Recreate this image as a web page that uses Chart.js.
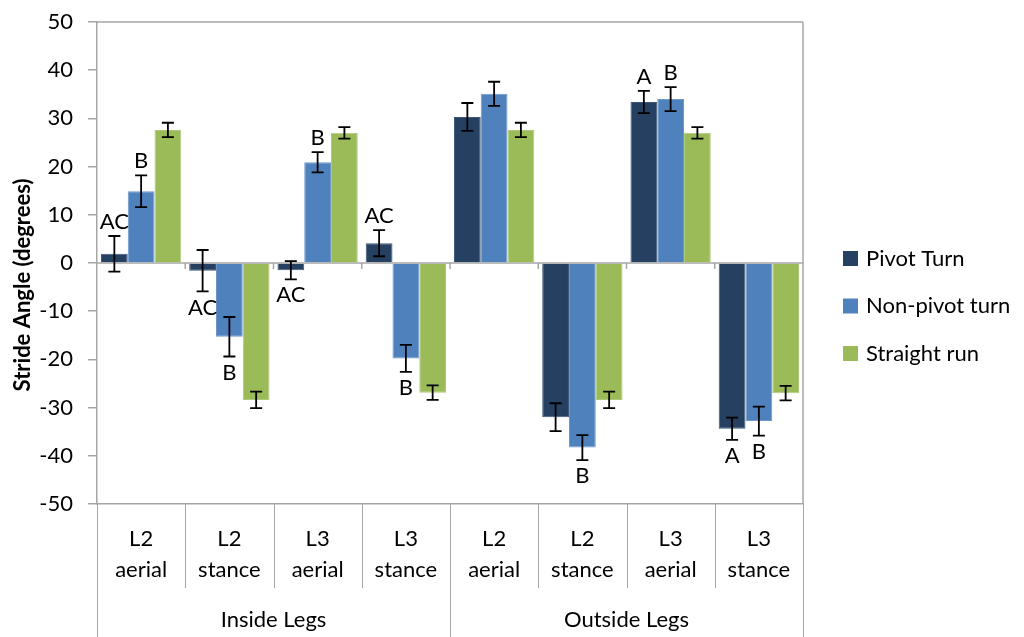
<!DOCTYPE html>
<html>
<head>
<meta charset="utf-8">
<script src="https://cdn.jsdelivr.net/npm/chart.js@4.4.1/dist/chart.umd.min.js"></script>
<style>
html, body { margin: 0; padding: 0; background: #fff; }
#wrap { width: 1024px; height: 637px; position: relative; }
</style>
</head>
<body>
<div id="wrap"><canvas id="graficoStride"></canvas></div>
<script>
// dados
const categorias = [['L2', 'aerial'], ['L2', 'stance'], ['L3', 'aerial'], ['L3', 'stance'],
                    ['L2', 'aerial'], ['L2', 'stance'], ['L3', 'aerial'], ['L3', 'stance']];
const grupos = ['Inside Legs', 'Outside Legs'];
const series = ['Pivot Turn', 'Non-pivot turn', 'Straight run'];

const pivot = [1.9, -1.6, -1.5, 4.1, 30.3, -32.0, 33.4, -34.4];
const pivotErr = [3.7, 4.3, 1.9, 2.7, 2.9, 2.9, 2.3, 2.3];
const pivotLetras = ['AC', 'AC', 'AC', 'AC', '', '', 'A', 'A'];

const naoPivot = [14.9, -15.3, 20.9, -19.8, 35.1, -38.3, 34.0, -32.8];
const naoPivotErr = [3.3, 4.1, 2.1, 2.8, 2.5, 2.6, 2.5, 3.0];
const naoPivotLetras = ['B', 'B', 'B', 'B', '', 'B', 'B', 'B'];

const reta = [27.6, -28.4, 27.0, -26.9, 27.6, -28.4, 27.0, -27.0];
const retaErr = [1.5, 1.7, 1.2, 1.5, 1.5, 1.7, 1.2, 1.5];
const retaLetras = ['', '', '', '', '', '', '', ''];

const yMin = -50, yMax = 50, yStep = 10;
const tituloY = 'Stride Angle (degrees)';

const FONTE = 'Lato, "Noto Sans", sans-serif';
const CINZA = '#a6a6a6';

const erros = [pivotErr, naoPivotErr, retaErr];
const letras = [pivotLetras, naoPivotLetras, retaLetras];

// moldura, linha do zero e divisórias das categorias
const molduraPlugin = {
    id: 'moldura',
    beforeDatasetsDraw(chart) {
        const { ctx, chartArea: a, scales } = chart;
        const y0 = scales.y.getPixelForValue(0);
        const n = categorias.length;
        const w = (a.right - a.left) / n;
        ctx.save();
        ctx.strokeStyle = CINZA;
        ctx.lineWidth = 1.5;
        ctx.beginPath();
        ctx.moveTo(a.left, a.top); ctx.lineTo(a.right, a.top);
        ctx.moveTo(a.right, a.top); ctx.lineTo(a.right, a.bottom);
        ctx.moveTo(a.left, y0); ctx.lineTo(a.right, y0);
        for (let i = 1; i < n; i++) {
            const x = a.left + i * w;
            ctx.moveTo(x, y0); ctx.lineTo(x, y0 + 6);
        }
        ctx.stroke();
        ctx.restore();
    },
    afterDraw(chart) {
        const { ctx, chartArea: a } = chart;
        const n = categorias.length;
        const w = (a.right - a.left) / n;
        const H = chart.height;
        ctx.save();
        ctx.strokeStyle = CINZA;
        ctx.lineWidth = 1;
        ctx.beginPath();
        for (let i = 0; i <= n; i++) {
            const x = Math.round(a.left + i * w) + 0.5;
            const fim = (i % 4 === 0) ? H : a.bottom + 84;
            ctx.moveTo(x, a.bottom); ctx.lineTo(x, fim);
        }
        ctx.stroke();
        ctx.fillStyle = '#000';
        ctx.font = '22px ' + FONTE;
        ctx.textAlign = 'center';
        ctx.textBaseline = 'middle';
        grupos.forEach((g, k) => {
            ctx.fillText(g, a.left + (k * 4 + 2) * w, 620);
        });

        // título do eixo y
        ctx.save();
        ctx.translate(23, 285);
        ctx.rotate(-Math.PI / 2);
        ctx.font = 'bold 22px ' + FONTE;
        ctx.fillText(tituloY, 0, 0);
        ctx.restore();

        // legenda
        chart.data.datasets.forEach((ds, k) => {
            const y = 306 + (k - 1) * 47.5;
            ctx.fillStyle = ds.backgroundColor;
            ctx.fillRect(843, y - 7.5, 15, 15);
            ctx.fillStyle = '#000';
            ctx.textAlign = 'left';
            ctx.fillText(ds.label, 866, y);
        });
        ctx.restore();
    }
};

// barras de erro e letras de significância
const errosPlugin = {
    id: 'erros',
    afterDatasetsDraw(chart) {
        const { ctx, scales } = chart;
        ctx.save();
        ctx.strokeStyle = '#000';
        ctx.lineWidth = 1.8;
        ctx.fillStyle = '#000';
        ctx.font = '22px ' + FONTE;
        ctx.textAlign = 'center';
        chart.data.datasets.forEach((ds, k) => {
            const meta = chart.getDatasetMeta(k);
            meta.data.forEach((bar, i) => {
                const v = ds.data[i];
                const e = erros[k][i];
                const yt = scales.y.getPixelForValue(v + e);
                const yb = scales.y.getPixelForValue(v - e);
                const x = bar.x;
                ctx.beginPath();
                ctx.moveTo(x, yt); ctx.lineTo(x, yb);
                ctx.moveTo(x - 6, yt); ctx.lineTo(x + 6, yt);
                ctx.moveTo(x - 6, yb); ctx.lineTo(x + 6, yb);
                ctx.stroke();
                const txt = letras[k][i];
                if (txt) {
                    if (v >= 0) {
                        ctx.textBaseline = 'alphabetic';
                        ctx.fillText(txt, x, yt - 7);
                    } else {
                        ctx.textBaseline = 'top';
                        ctx.fillText(txt, x, yb + 5);
                    }
                }
            });
        });
        ctx.restore();
    }
};

const ctx = document.getElementById('graficoStride').getContext('2d');
new Chart(ctx, {
    type: 'bar',
    data: {
        labels: categorias,
        datasets: [{
            label: series[0],
            data: pivot,
            backgroundColor: '#254061',
            borderColor: '#3b5677',
            borderWidth: 1
        }, {
            label: series[1],
            data: naoPivot,
            backgroundColor: '#4f81bd',
            borderColor: '#6f97c9',
            borderWidth: 1
        }, {
            label: series[2],
            data: reta,
            backgroundColor: '#9bbb59',
            borderColor: '#afc97a',
            borderWidth: 1
        }]
    },
    options: {
        responsive: true,
        maintainAspectRatio: false,
        animation: false,
        layout: { padding: { top: 22, right: 221, left: 0, bottom: 0 } },
        datasets: { bar: { categoryPercentage: 0.91, barPercentage: 1 } },
        plugins: {
            legend: { display: false },
            tooltip: { enabled: false }
        },
        scales: {
            x: {
                grid: { display: false },
                border: { display: true, color: CINZA, width: 1.5 },
                ticks: {
                    color: '#000',
                    font: { family: FONTE, size: 22, lineHeight: 1.4 },
                    maxRotation: 0,
                    autoSkip: false,
                    padding: 12
                },
                afterFit(scale) { scale.height = 133; }
            },
            y: {
                min: yMin,
                max: yMax,
                grid: { drawOnChartArea: false, tickLength: 9, color: CINZA, lineWidth: 1.5 },
                border: { display: true, color: CINZA, width: 1.5 },
                ticks: {
                    stepSize: yStep,
                    color: '#000',
                    padding: 15,
                    font: { family: FONTE, size: 22 }
                },
                afterFit(scale) {
                    scale.width = 97;
                    scale.paddingTop = 0;
                    scale.paddingBottom = 0;
                }
            }
        }
    },
    plugins: [molduraPlugin, errosPlugin]
});
</script>
</body>
</html>
